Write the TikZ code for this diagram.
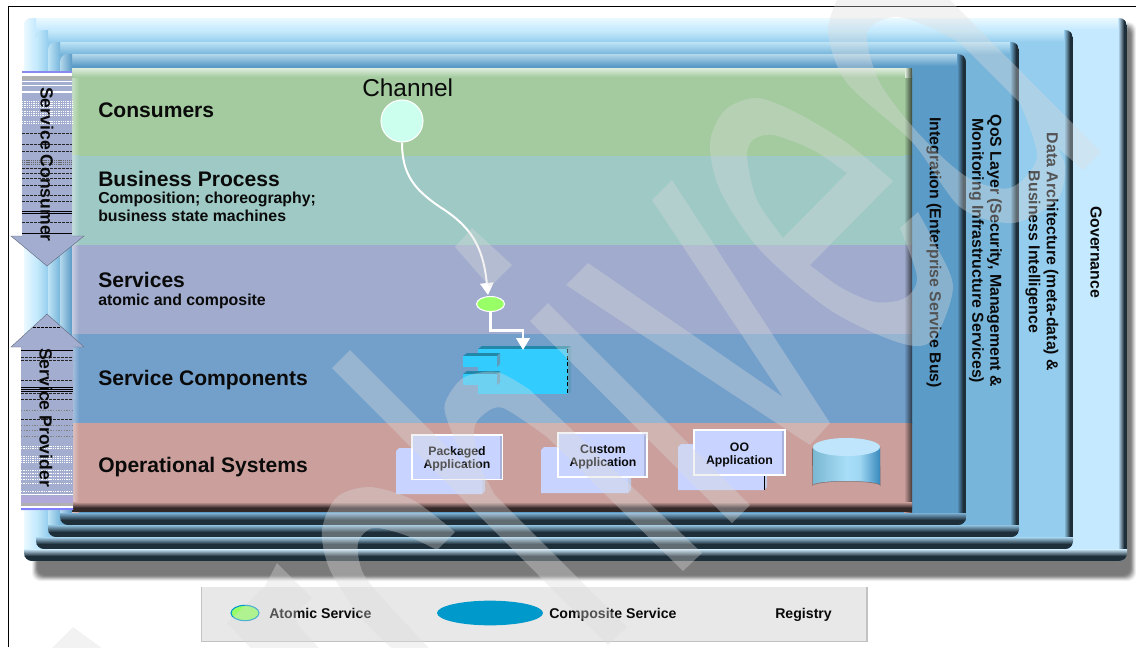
\documentclass[tikz,border=0pt]{standalone}
\usepackage{fontspec}
\setmainfont{Liberation Sans}
\usetikzlibrary{shapes.geometric,arrows.meta}
\definecolor{cGov}{HTML}{C5E9FF}\definecolor{cGovL}{HTML}{EAF9FF}
\definecolor{cData}{HTML}{95CDEE}\definecolor{cDataL}{HTML}{C8ECFC}
\definecolor{cQos}{HTML}{77B5DB}\definecolor{cQosL}{HTML}{BEE4F6}
\definecolor{cInt}{HTML}{5B9BC7}\definecolor{cIntL}{HTML}{B4D8EC}
\definecolor{cDark}{HTML}{1E2F3A}
\definecolor{bConsumer}{HTML}{A3CB9F}\definecolor{bBiz}{HTML}{9EC9C5}
\definecolor{bSvc}{HTML}{A0ABCD}\definecolor{bComp}{HTML}{739FCB}\definecolor{bOps}{HTML}{CA9F9C}
\definecolor{arrowFill}{HTML}{A2ADCF}
\definecolor{sheet}{HTML}{C8D4FF}\definecolor{sheetEdge}{HTML}{A8B2DA}
\definecolor{compBlue}{HTML}{33CCFF}\definecolor{compDark}{HTML}{2288AA}\definecolor{compSide}{HTML}{5C9DBB}
\definecolor{legendBg}{HTML}{E8E8E8}\definecolor{legendEdge}{HTML}{C2C2C2}
\definecolor{atomGreen}{HTML}{99FF66}\definecolor{chanFill}{HTML}{CCFFEE}\definecolor{compoFill}{HTML}{0099CC}
\definecolor{txt}{HTML}{0A0A0A}
\definecolor{hBlue}{HTML}{8888EE}\definecolor{hGrey}{HTML}{B0B0B0}\definecolor{hLilac}{HTML}{B0A8D8}\definecolor{hBlueB}{HTML}{8080FF}
\definecolor{wmark}{HTML}{DCDCDC}
\pgfdeclarehorizontalshading{cyl}{100bp}{rgb(0bp)=(.48,.72,.82);rgb(25bp)=(.48,.72,.82);rgb(50bp)=(.66,.87,.97);rgb(60bp)=(.62,.84,.95);rgb(75bp)=(.22,.54,.74);rgb(100bp)=(.22,.54,.74)}
\newcommand{\pxfont}[1]{\fontsize{#1}{#1}\selectfont\bfseries}
\newcommand{\layerbox}[6]{%
  \begin{scope}
    \clip[rounded corners=6pt] (#1,#2) rectangle (#3,#4);
    \fill[#5] (#1,#2) rectangle (#3,#4);
    \shade[top color=#6,bottom color=#5] (#1,#2) rectangle (#3,#2+12);
    \shade[left color=#6,right color=#5] (#1,#2) rectangle (#1+12,#4);
    \shade[left color=#5,right color=cDark] (#3-9,#2) rectangle (#3-3,#4);
    \fill[cDark] (#3-3,#2) rectangle (#3,#4);
    \shade[top color=#5!80!white,bottom color=cDark] (#1,#4-12) rectangle (#3,#4-5);
    \fill[cDark] (#1,#4-5) rectangle (#3,#4);
  \end{scope}}
\newcommand{\bandbox}[3]{%
  \fill[#3] (72,#1) rectangle (912,#2);
  \shade[left color=#3!60!white,right color=#3] (72,#1) rectangle (79,#2);
  \shade[left color=#3,right color=#3!35!black] (904,#1) rectangle (912,#2);}
\newcommand{\appsheet}[8]{% back x0 y0 x1 y1, front x0 y0 x1 y1
  \fill[sheetEdge!70!white] (#3,#2+4) -- (#3+3,#2+2) -- (#3+3,#4-3) -- (#3,#4) -- cycle;
  \fill[sheet] (#1,#2+3) -- (#1+3,#2) -- (#3,#2) -- (#3,#4) -- (#1,#4) -- cycle;
  \fill[sheet] (#5,#6) rectangle (#7,#8);
  \fill[sheetEdge] (#7-3,#6) rectangle (#7,#8);
  \draw[white,line width=.9pt] (#5,#6) rectangle (#7,#8);}
\tikzset{
  wlabel/.style={anchor=base west,inner sep=0pt,text=txt},
  rlabel/.style={rotate=-90,inner sep=0pt,text=txt,align=center,font=\pxfont{11.9}},
  flow/.style={white,-{Triangle[length=9pt,width=10pt]}},
  hatchw/.style={white,line width=.6pt},
}
\begin{document}
\begin{tikzpicture}[x=.75pt,y=-.75pt]
\useasboundingbox (0,0) rectangle (1136,647);
\clip (0,0) rectangle (1136,647);
\fill[white] (0,0) rectangle (1136,647);
% frame
\draw[black,line width=.9pt] (8.5,647) -- (8.5,6.3) -- (1136,6.3);
% shadow
\foreach \i/\g in {0/6,1/14,2/24,3/34,4/44,5/50,6/52}{
  \fill[black!\g,rounded corners=6pt] (32+\i,22+\i) rectangle (1136-\i,581-\i);
}
% nested layers
\layerbox{24}{18}{1127}{561}{cGov}{cGovL}
\layerbox{36}{30}{1073}{549}{cData}{cDataL}
\layerbox{48}{42}{1019}{537}{cQos}{cQosL}
\layerbox{60}{54}{966}{525}{cInt}{cIntL}
% main bands
\bandbox{76}{155.5}{bConsumer}
\bandbox{155.5}{245}{bBiz}
\bandbox{245}{334}{bSvc}
\bandbox{334}{423}{bComp}
\bandbox{423}{512}{bOps}
\shade[top color=bConsumer!35!white,bottom color=bConsumer] (72,68) rectangle (912,77);
\shade[left color=bConsumer!35!white,right color=bConsumer!35!black] (905,68) rectangle (912,77);
\shade[top color=bOps,bottom color=black!80!bOps] (72,502) rectangle (912,508);
\fill[black!75!bOps] (72,508) rectangle (912,512);
% band labels
\node[wlabel,font=\pxfont{15.8}] (consumers) at (98,117.3) {Consumers};
\node[wlabel,font=\pxfont{15.8}] (bizproc) at (98,186) {Business Process};
\node[wlabel,font=\pxfont{11.9}] (bizsub1) at (98,203.6) {Composition; choreography;};
\node[wlabel,font=\pxfont{11.9}] (bizsub2) at (98,221.4) {business state machines};
\node[wlabel,font=\pxfont{15.8}] (svc) at (98,287.4) {Services};
\node[wlabel,font=\pxfont{11.9}] (svcsub) at (98,305) {atomic and composite};
\node[wlabel,font=\pxfont{15.8}] (scomp) at (98,385) {Service Components};
\node[wlabel,font=\pxfont{15.8}] (ops) at (98,472.4) {Operational Systems};
% side labels
\node[rlabel] (intg) at (934,252.5) {Integration (Enterprise Service Bus)};
\node[rlabel] (qos) at (985.5,251) {QoS Layer (Security, Management \&\\[1.6pt]Monitoring Infrastructure Services)};
\node[rlabel] (data) at (1042,252) {Data Architecture (meta-data) \&\\[1.6pt]Business Intelligence};
\node[rlabel] (gov) at (1096,252) {Governance};
% component
\fill[compDark] (478,349) -- (482,346) -- (571,346) -- (567,349) -- cycle;
\fill[compSide] (567,349) -- (571,346) -- (571,392) -- (567,394) -- cycle;
\node[fill=compBlue,minimum width=67.5pt,minimum height=33.75pt,inner sep=0pt,outer sep=0pt] (compo) at (522.5,371.5) {};
\draw[black,line width=.5pt,densely dashed] (567,349) -- (567,394);
\foreach \py in {356,374}{
  \fill[compDark] (463,\py) -- (467,\py-3) -- (500,\py-3) -- (497,\py) -- cycle;
  \fill[compSide] (497,\py) -- (500,\py-3) -- (500,\py+8) -- (497,\py+11) -- cycle;
  \fill[compBlue] (463,\py) rectangle (497,\py+11);
}
% applications
\appsheet{396}{448}{482}{494}{412}{435}{502.5}{479.5}
\appsheet{541}{447}{628}{493}{558}{433}{647}{477}
\appsheet{678}{444}{764}{490}{694}{430}{785}{475}
\draw[black,line width=.6pt] (764.5,476) -- (764.5,490);
\node[inner sep=0pt,align=center,text=txt,font=\pxfont{9.2}] (pkg) at (457,458.5) {Packaged\\[.6pt]Application};
\node[inner sep=0pt,align=center,text=txt,font=\pxfont{9.2}] (cst) at (603,457) {Custom\\[.6pt]Application};
\node[inner sep=0pt,align=center,text=txt,font=\pxfont{9.2}] (oo) at (739.5,455) {OO\\[1pt]Application};
% database
\fill[black!35!bOps] (812,447) arc[start angle=180,end angle=0,x radius=34,y radius=10.5] -- (880.5,486) arc[start angle=0,end angle=-180,x radius=34,y radius=4.5] -- cycle;
\shade[shading=cyl] (813,447) -- (813,485) arc[start angle=180,end angle=360,x radius=33.5,y radius=4] -- (880,447) -- cycle;
\fill[cGov!85!cData] (846.5,447) ellipse[x radius=33.5,y radius=9];
% channel and services
\node[wlabel,font=\fontsize{18.3}{18.3}\selectfont] (chlabel) at (362,96) {Channel};
\node[circle,draw=white,fill=chanFill,line width=.8pt,minimum size=31.5pt,inner sep=0pt] (chan) at (402,121) {};
\node[ellipse,draw=white,fill=atomGreen,line width=.8pt,minimum width=21pt,minimum height=11.2pt,inner sep=0pt] (atom) at (490.5,304) {};
\coordinate (atomin) at (488,295);
\coordinate (compin) at (523,350);
\draw[flow,line width=1.5pt] (chan.south) .. controls (402,175) and (415,190) .. (440,207) .. controls (470,226) and (483,245) .. (atomin);
\draw[flow,line width=2.2pt,line join=miter] (atom.south) |- (523,330.5) -- (compin);
% left arrows
\fill[arrowFill] (22,72) -- (72,72) -- (72,236) -- (84,236) -- (47,266) -- (11,236) -- (22,236) -- cycle;
\draw[black!40!arrowFill,line width=.3pt] (22,236) -- (11,236) -- (47,266) -- (84,236) -- (72,236);
\fill[white] (22,71) rectangle (72,76);
\fill[hBlue] (22,71) rectangle (72,72.6);
\fill[hGrey] (22,76) rectangle (72,80);
\foreach \y in {81,85,91,92.5}{\draw[hatchw] (22,\y) -- (72,\y);}
\foreach \y in {101,103,105,107,111,113,115,121,123}{\draw[white,line width=.7pt,dash pattern=on 1pt off .7pt] (22,\y) -- (72,\y);}
\foreach \y in {133,144,151,168,173,178,185,195,201,222}{\draw[black!85,line width=.45pt,dash pattern=on 2pt off 1pt] (22,\y) -- (72,\y);}
\foreach \y in {160,162,164}{\draw[black!60,line width=.7pt,dash pattern=on 1pt off .6pt] (22,\y) -- (72,\y);}
\foreach \y in {211,213}{\draw[black,line width=.5pt] (22,\y) -- (72,\y);}
\draw[black,line width=.6pt] (22,233) -- (72,233);
\node[rotate=-90,inner sep=0pt,text=txt,font=\pxfont{13.2}] (scons) at (47,164.5) {Service Consumer};
%
\fill[arrowFill] (47,314) -- (84,347) -- (73,347) -- (73,510) -- (21,510) -- (21,347) -- (11,347) -- cycle;
\draw[black!40!arrowFill,line width=.3pt] (21,347) -- (11,347) -- (47,314) -- (84,347) -- (73,347);
\draw[black,line width=.45pt,dash pattern=on 2pt off 1pt] (33,327) -- (61,327);
\foreach \y in {357,360,380,393,399,419}{\draw[black!85,line width=.45pt,dash pattern=on 2pt off 1pt] (21,\y) -- (73,\y);}
\draw[black,line width=.6pt] (21,350) -- (73,350);
\foreach \y in {387,389,391}{\draw[black,line width=.45pt] (21,\y) -- (73,\y);}
\foreach \y in {410,425,430,436}{\draw[black!50,line width=.7pt,dash pattern=on 1pt off 1pt] (21,\y) -- (73,\y);}
\foreach \y in {446,448,456,458,460,462,470,473,476,479,483,491}{\draw[white,line width=.7pt,dash pattern=on 1pt off .7pt] (21,\y) -- (73,\y);}
\foreach \y in {494.5}{\draw[hatchw] (21,\y) -- (73,\y);}
\fill[hLilac] (21,496) rectangle (73,503);
\fill[hGrey] (21,503) rectangle (73,506);
\fill[white] (21,506) rectangle (73,507.5);
\fill[hBlueB] (21,507.5) rectangle (73,510);
\node[rotate=-90,inner sep=0pt,text=txt,font=\pxfont{13.2}] (sprov) at (46,417.5) {Service Provider};
% legend
\fill[legendBg] (201,587) rectangle (867,642);
\draw[legendEdge,line width=1pt] (201.5,587) -- (201.5,641.5) -- (867,641.5) -- (867,587);
\node[ellipse,draw=compoFill,fill=atomGreen,line width=.8pt,minimum width=21pt,minimum height=11.5pt,inner sep=0pt] (legatom) at (245,613) {};
\node[wlabel,font=\pxfont{10.6}] (legatomt) at (269,618) {Atomic Service};
\node[ellipse,fill=compoFill,minimum width=79.5pt,minimum height=18.5pt,inner sep=0pt] (legcomp) at (490,613) {};
\node[wlabel,font=\pxfont{10.6}] (legcompt) at (549,618) {Composite Service};
\node[wlabel,font=\pxfont{10.6}] (legreg) at (775,618) {Registry};
% watermark
\begin{scope}[transparency group,opacity=.35]
\fill[wmark] (73,627) -- (40,660) -- (118,660) -- cycle; % A
% r
\fill[wmark] (227,623) -- (263,588) -- (330,660) -- (262,660) -- cycle;
\fill[wmark] (277,563) -- (312,598) -- (296,613) -- plot[smooth] coordinates {(296,613) (300,628) (330,660)} -- (280,660) -- plot[smooth] coordinates {(280,660) (264,625) (263,590)} -- cycle;
% c
\fill[wmark] (455,532) -- plot[smooth] coordinates {(455,532) (413,500) (370,487) (337,497) (322,530) (330,570) (363,620) (405,660)} -- (440,660) -- plot[smooth] coordinates {(440,660) (387,603) (363,573) (358,543) (373,528) (405,535) (437,550)} -- cycle;
% h
\fill[wmark] (350,350) -- (627,627) -- (608,645) -- (332,368) -- cycle;
\fill[wmark] plot[smooth] coordinates {(468,468) (449,425) (445,403) (463,378) (497,372) (530,390)} -- (702,553) -- (683,571) -- (547,437) -- plot[smooth] coordinates {(547,437) (503,408) (483,415) (474,430) (480,465) (495,495)} -- cycle;
% i
\fill[wmark] (548,303) -- (750,505) -- (732,523) -- (530,321) -- cycle;
\fill[wmark] (472,228) -- (512,265) -- (490,287) -- (455,247) -- cycle;
% v
\fill[wmark] (566,285) -- (810,445) -- (830,423) -- (672,180) -- (652,200) -- (783,397) -- (588,263) -- cycle;
% e
\fill[wmark,even odd rule] plot[smooth] coordinates {(893,181) (847,143) (797,113) (757,98) (725,110) (710,143) (720,190) (760,250) (830,310) (900,343) (933,340) (953,287) (933,240) (918,212)} -- plot[smooth] coordinates {(900,228) (917,277) (905,298) (875,302) (840,287) (810,265)} -- cycle
  plot[smooth] coordinates {(847,173) (813,150) (773,135) (753,140) (747,157) (757,200) (783,238)} -- cycle;
% d
\fill[wmark,even odd rule] (837,-12) -- plot[smooth] coordinates {(837,0) (828,33) (847,83) (913,143) (960,207) (1013,223) (1057,200) (1065,167) (1057,147)} -- (1083,170) -- (1101,152) -- (950,0) -- (938,-12) -- cycle
  plot[smooth] coordinates {(960,43) (925,25) (893,17) (867,33) (880,83) (920,135) (967,177) (1010,188) (1037,157) (1020,103)} -- cycle;
\end{scope}
\end{tikzpicture}
\end{document}
